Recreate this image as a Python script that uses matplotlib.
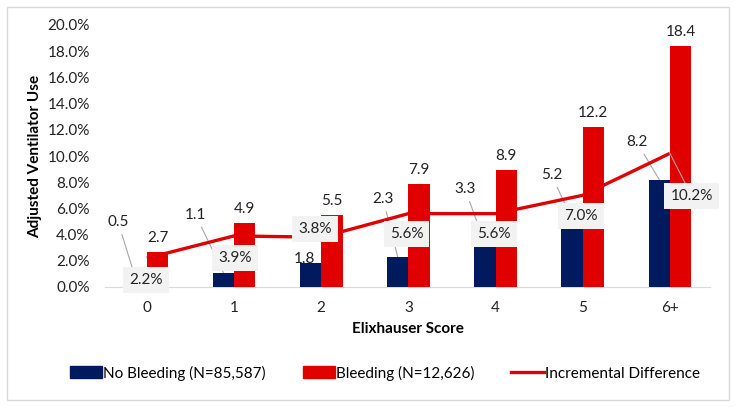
import matplotlib
matplotlib.use("Agg")
import matplotlib.pyplot as plt
from matplotlib.patches import Rectangle, Patch
from matplotlib.lines import Line2D
import numpy as np

categories = ["0", "1", "2", "3", "4", "5", "6+"]
no_bleeding = [0.5, 1.1, 1.8, 2.3, 3.3, 5.2, 8.2]
bleeding = [2.7, 4.9, 5.5, 7.9, 8.9, 12.2, 18.4]
incremental = [2.2, 3.9, 3.8, 5.6, 5.6, 7.0, 10.2]
yticks = [0, 2, 4, 6, 8, 10, 12, 14, 16, 18, 20]

# label placement (data coords)
navy_label_pos = [(-0.33, 4.96), (0.56, 5.5), (1.81, 2.14), (2.71, 6.7),
                  (3.65, 7.48), (4.64, 8.55), (5.62, 11.07)]
inc_label_pos = [(-0.01, 0.53), (1.01, 2.21), (1.93, 4.43), (2.98, 4.05),
                 (3.98, 4.05), (4.98, 5.42), (6.25, 6.95)]

NAVY = "#001a5e"
RED = "#e00000"
FONT = ["Lato", "DejaVu Sans"]
plt.rcParams["font.family"] = FONT
FS = 11

fig = plt.figure(figsize=(7.36, 4.07), dpi=100)
ax = fig.add_axes([105 / 736, 1 - 287 / 407, (710 - 105) / 736, (287 - 25) / 407])

x = np.arange(len(categories))
w = 0.245
ax.bar(x - w / 2, no_bleeding, width=w, color=NAVY, zorder=2)
ax.bar(x + w / 2, bleeding, width=w, color=RED, zorder=2)
ax.plot(x, incremental, color=RED, lw=2.4, zorder=3, solid_capstyle="butt")

# navy labels with leader lines
for i, v in enumerate(no_bleeding):
    tx, ty = navy_label_pos[i]
    ax.annotate(f"{v:.1f}", xy=(i - w / 2, v), xytext=(tx, ty), ha="center", va="center",
                fontsize=FS, color="#222222", zorder=1,
                arrowprops=dict(arrowstyle="-", color="#a6a6a6", lw=0.8, shrinkA=2, shrinkB=0))

# red labels
for i, v in enumerate(bleeding):
    ax.annotate(f"{v:.1f}", xy=(i + w / 2, v), xytext=(0, 5), textcoords="offset points",
                ha="center", va="bottom", fontsize=FS, color="#222222", zorder=5)

# incremental labels
for i, v in enumerate(incremental):
    tx, ty = inc_label_pos[i]
    arrow = None
    if i == 6:
        arrow = dict(arrowstyle="-", color="#a6a6a6", lw=0.8, shrinkA=0, shrinkB=0)
    ax.annotate(f"{v:.1f}%", xy=(i, v), xytext=(tx, ty), ha="center", va="center",
                fontsize=FS, color="#222222", zorder=6,
                bbox=dict(boxstyle="square,pad=0.4", fc="#f2f2f2", ec="none"),
                arrowprops=arrow)

ax.set_xlim(-0.48, 6.46)
ax.set_ylim(0, 20)
ax.set_yticks(yticks)
ax.set_yticklabels([f"{t:.1f}%" for t in yticks])
ax.set_xticks(x)
ax.set_xticklabels(categories)
ax.tick_params(axis="both", length=0, labelsize=FS, colors="#222222")
ax.tick_params(axis="y", pad=11)
ax.tick_params(axis="x", pad=10)
for s in ["top", "right", "left"]:
    ax.spines[s].set_visible(False)
ax.spines["bottom"].set_color("#d9d9d9")
ax.spines["bottom"].set_zorder(0)
ax.set_xlabel("Elixhauser Score", fontsize=FS, fontweight="bold", labelpad=5)
ax.set_ylabel("Adjusted Ventilator Use", fontsize=FS, fontweight="bold", labelpad=4)
ax.patch.set_alpha(0)

handles = [Patch(color=NAVY), Patch(color=RED), Line2D([0], [0], color=RED, lw=2.4)]
labels = ["No Bleeding (N=85,587)", "Bleeding (N=12,626)", "Incremental Difference"]
fig.legend(handles, labels, loc="center", bbox_to_anchor=(0.523, 1 - 373 / 407), ncol=3,
           frameon=False, fontsize=FS, handlelength=2.1, handleheight=0.85,
           handletextpad=0.1, columnspacing=2.4)

fig.patches.append(Rectangle((7 / 736, 7 / 407), 722 / 736, 393 / 407, transform=fig.transFigure,
                             fill=False, ec="#d9d9d9", lw=1))

fig.savefig("out.png", dpi=100)
